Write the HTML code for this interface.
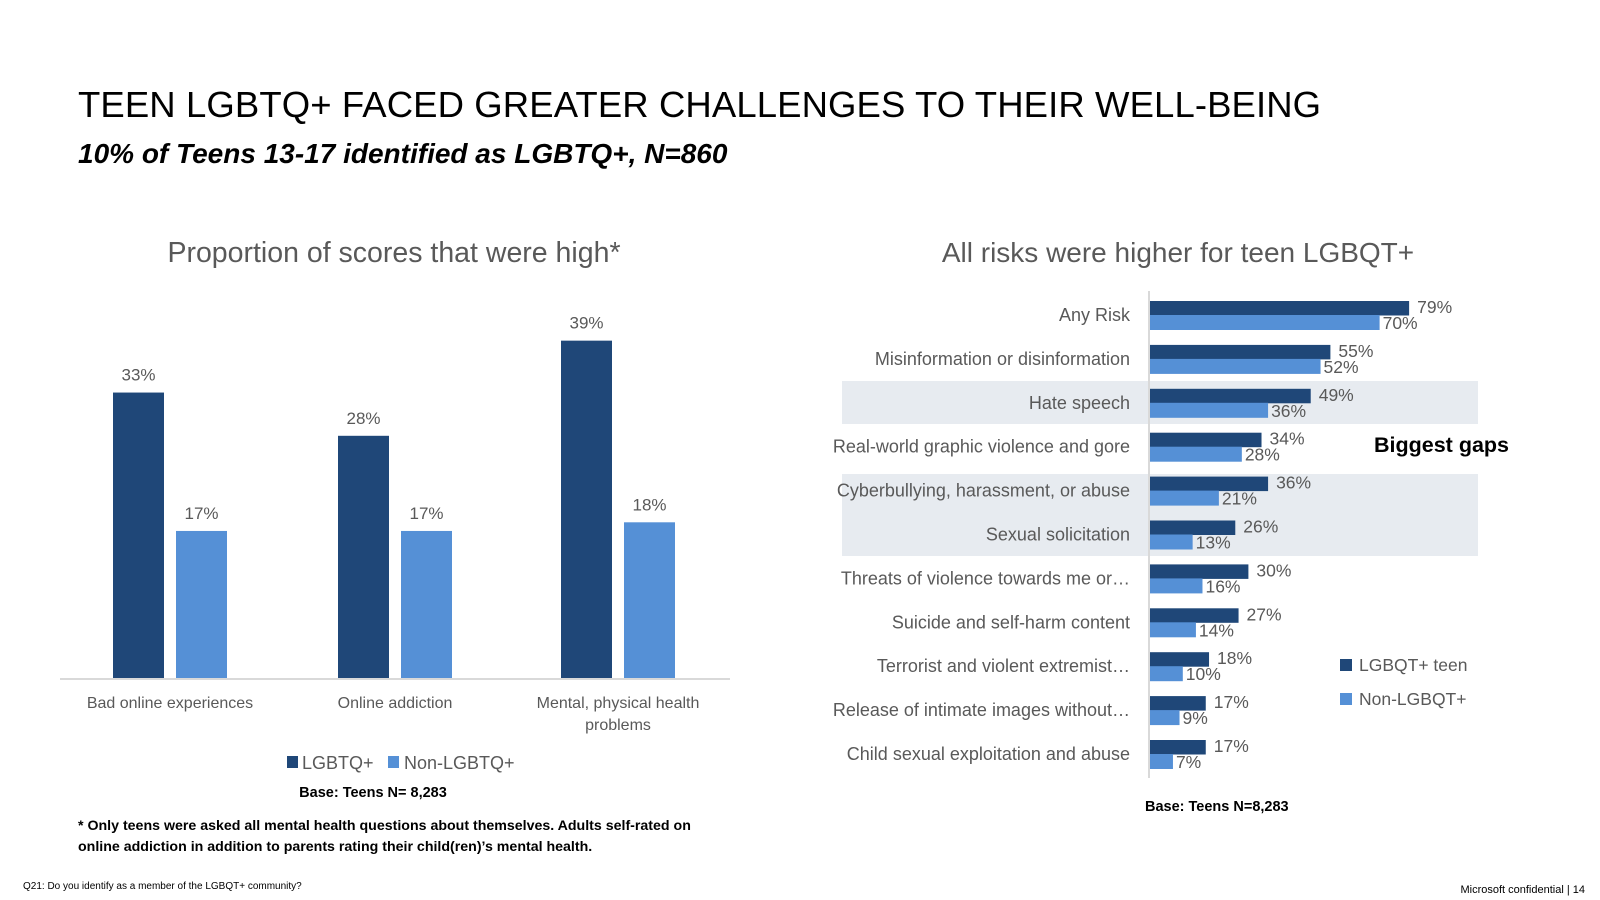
<!DOCTYPE html>
<html><head><meta charset="utf-8"><style>
body{margin:0;width:1600px;height:900px;background:#fff;font-family:"Liberation Sans",sans-serif;position:relative;overflow:hidden}
.t{position:absolute;white-space:nowrap}
</style></head><body>
<div class="t" style="left:78px;top:84px;font-size:36.5px;color:#000;letter-spacing:0.1px">TEEN LGBTQ+ FACED GREATER CHALLENGES TO THEIR WELL-BEING</div>
<div class="t" style="left:78px;top:138px;font-size:28px;font-weight:bold;font-style:italic;color:#000">10% of Teens 13-17 identified as LGBTQ+, N=860</div>
<svg id="c" width="1600" height="900" style="position:absolute;left:0;top:0" font-family="Liberation Sans, sans-serif"></svg>
<div class="t" style="left:78px;top:816px;font-size:14.2px;font-weight:bold;line-height:21px;color:#000">* Only teens were asked all mental health questions about themselves. Adults self-rated on<br>online addiction in addition to parents rating their child(ren)’s mental health.</div>
<div class="t" style="left:23px;top:881px;font-size:10px;color:#000">Q21: Do you identify as a member of the LGBQT+ community?</div>
<div class="t" style="right:15px;top:884px;font-size:11px;color:#000">Microsoft confidential | 14</div>
<script>
const leftCats=["Bad online experiences","Online addiction","Mental, physical health|problems"];
const leftA=[33,28,39];
const leftB=[17,17,18];
const rightCats=["Any Risk","Misinformation or disinformation","Hate speech","Real-world graphic violence and gore","Cyberbullying, harassment, or abuse","Sexual solicitation","Threats of violence towards me or…","Suicide and self-harm content","Terrorist and violent extremist…","Release of intimate images without…","Child sexual exploitation and abuse"];
const rightA=[79,55,49,34,36,26,30,27,18,17,17];
const rightB=[70,52,36,28,21,13,16,14,10,9,7];
const DARK="#1F4778",LIGHT="#5590D6",GRAY="#595959";
const svg=document.getElementById('c');const NS="http://www.w3.org/2000/svg";
function el(t,a,txt){const e=document.createElementNS(NS,t);for(const k in a)e.setAttribute(k,a[k]);if(txt!==undefined)e.textContent=txt;svg.appendChild(e);return e;}
// left chart
let e=el('text',{x:394,y:262,'font-size':28.5,fill:GRAY,'text-anchor':'middle'},'Proportion of scores that were high*');

const base=678,ppx=8.65;
const yL=v=>base-v*ppx;
const gx=[113,338,561];
leftCats.forEach((c,i)=>{
 const xa=gx[i],xb=gx[i]+63;
 let r=el('rect',{x:xa,y:yL(leftA[i]),width:51,height:base-yL(leftA[i]),fill:DARK});
 
 r=el('rect',{x:xb,y:yL(leftB[i]),width:51,height:base-yL(leftB[i]),fill:LIGHT});
 
 let t=el('text',{x:xa+25.5,y:yL(leftA[i])-12,'font-size':17,fill:GRAY,'text-anchor':'middle'},leftA[i]+'%');
 
 t=el('text',{x:xb+25.5,y:yL(leftB[i])-12,'font-size':17,fill:GRAY,'text-anchor':'middle'},leftB[i]+'%');
 
 c.split('|').forEach((ln,j)=>{
  t=el('text',{x:xa+57,y:708+j*22,'font-size':16,fill:GRAY,'text-anchor':'middle'},ln);
  
 });
});
e=el('line',{x1:60,x2:730,y1:base+1,y2:base+1,stroke:'#d9d9d9','stroke-width':2});

e=el('rect',{x:287,y:756,width:11,height:12,fill:DARK});
e=el('text',{x:302,y:769,'font-size':18,fill:GRAY},'LGBTQ+');
e=el('rect',{x:388,y:756,width:11,height:12,fill:LIGHT});
e=el('text',{x:404,y:769,'font-size':18,fill:GRAY},'Non-LGBTQ+');
e=el('text',{x:373,y:797,'font-size':14.5,'font-weight':'bold',fill:'#000','text-anchor':'middle'},'Base: Teens N= 8,283');
// right chart
e=el('text',{x:1178,y:262,'font-size':28,fill:GRAY,'text-anchor':'middle'},'All risks were higher for teen LGBQT+');

e=el('rect',{x:842,y:381,width:636,height:43,fill:'#E7EBF0'});
e=el('rect',{x:842,y:474,width:636,height:82,fill:'#E7EBF0'});
const ax=1150,pp=3.28,row0=315,rs=43.9;
const xR=v=>ax+v*pp;
rightCats.forEach((c,i)=>{
 const cy=row0+i*rs;
 let r=el('rect',{x:ax,y:cy-14,width:xR(rightA[i])-ax,height:14.5,fill:DARK});
 
 r=el('rect',{x:ax,y:cy,width:xR(rightB[i])-ax,height:15,fill:LIGHT});
 
 let t=el('text',{x:xR(rightA[i])+8,y:cy-2,'font-size':17.5,fill:GRAY},rightA[i]+'%');
 
 t=el('text',{x:xR(rightB[i])+3,y:cy+14,'font-size':17.5,fill:GRAY},rightB[i]+'%');
 
 t=el('text',{x:1130,y:cy+6,'font-size':18,fill:GRAY,'text-anchor':'end'},c);
 
});
e=el('line',{x1:ax-1,x2:ax-1,y1:291,y2:778,stroke:'#d9d9d9','stroke-width':2});

e=el('text',{x:1374,y:452,'font-size':21.5,'font-weight':'bold',fill:'#000'},'Biggest gaps');
e=el('rect',{x:1340,y:659,width:12,height:12,fill:DARK});
e=el('text',{x:1359,y:671,'font-size':17.5,fill:GRAY},'LGBQT+ teen');
e=el('rect',{x:1340,y:693,width:12,height:12,fill:LIGHT});
e=el('text',{x:1359,y:705,'font-size':17.5,fill:GRAY},'Non-LGBQT+');
e=el('text',{x:1145,y:811,'font-size':14.5,'font-weight':'bold',fill:'#000'},'Base: Teens N=8,283');
</script>
</body></html>
